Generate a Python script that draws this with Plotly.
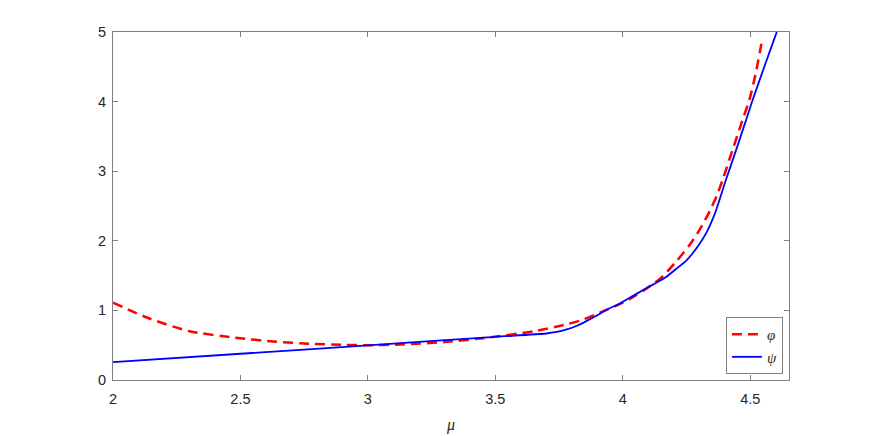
import plotly.graph_objects as go

# phi (red dashed)
phi_x = [2.0, 2.145, 2.30, 2.48, 2.64, 2.77, 2.90, 3.0, 3.13, 3.30, 3.45, 3.65, 3.78, 3.85, 3.91, 3.97, 4.026, 4.105, 4.157, 4.209, 4.262, 4.30, 4.34, 4.37, 4.392, 4.431, 4.47, 4.497, 4.52, 4.546]
phi_y = [1.11, 0.88, 0.70, 0.607, 0.55, 0.52, 0.505, 0.50, 0.51, 0.545, 0.60, 0.70, 0.80, 0.875, 0.967, 1.06, 1.16, 1.345, 1.49, 1.70, 1.94, 2.15, 2.42, 2.66, 2.88, 3.31, 3.74, 4.03, 4.38, 4.875]

# psi (blue solid)
psi_x = [2.0, 2.5, 3.0, 3.5, 3.70, 3.74, 3.78, 3.82, 3.857, 3.90, 3.936, 3.987, 4.05, 4.118, 4.17, 4.209, 4.25, 4.275, 4.30, 4.327, 4.35, 4.366, 4.405, 4.445, 4.484, 4.51, 4.56, 4.604, 4.62]
psi_y = [0.256, 0.377, 0.498, 0.62, 0.668, 0.69, 0.727, 0.78, 0.846, 0.93, 1.01, 1.096, 1.23, 1.37, 1.48, 1.595, 1.72, 1.825, 1.95, 2.11, 2.29, 2.44, 2.88, 3.31, 3.74, 4.03, 4.55, 5.0, 5.17]

x_ticks = [2, 2.5, 3, 3.5, 4, 4.5]
x_tick_labels = ["2", "2.5", "3", "3.5", "4", "4.5"]
y_ticks = [0, 1, 2, 3, 4, 5]
y_tick_labels = ["0", "1", "2", "3", "4", "5"]

fig = go.Figure()
fig.add_trace(go.Scatter(x=phi_x, y=phi_y, mode="lines", name="<i>φ</i>",
                         line=dict(color="#ff0000", width=2.5, dash="10px,6px",
                                   shape="spline", smoothing=0.6)))
fig.add_trace(go.Scatter(x=psi_x, y=psi_y, mode="lines", name="<i>ψ</i>",
                         line=dict(color="#0000ff", width=1.8, shape="spline", smoothing=0.6)))

axis_common = dict(showline=True, linecolor="#808080", linewidth=1, mirror="allticks",
                   ticks="inside", ticklen=5, tickcolor="#808080", showgrid=False,
                   zeroline=False, tickfont=dict(family="Liberation Sans, Arial", size=14.5, color="#262626"))

fig.update_xaxes(range=[2, 4.652], tickvals=x_ticks, ticktext=x_tick_labels, ticklabelstandoff=6,
                 title=dict(text="<i>μ</i>", font=dict(family="Liberation Serif, DejaVu Serif", size=16, color="#262626"), standoff=12),
                 **axis_common)
fig.update_yaxes(range=[0, 5], tickvals=y_ticks, ticktext=y_tick_labels, ticklabelstandoff=3, **axis_common)

fig.update_layout(
    width=872, height=436,
    margin=dict(l=105, r=91, t=24, b=64),
    paper_bgcolor="white", plot_bgcolor="white",
    showlegend=True,
    legend=dict(x=0.991, y=0.017, xanchor="right", yanchor="bottom",
                bordercolor="#808080", borderwidth=1, bgcolor="white",
                font=dict(family="Liberation Serif, DejaVu Serif", size=15, color="#262626"),
                itemwidth=30, tracegroupgap=0),
)

fig.write_html("out.html")
